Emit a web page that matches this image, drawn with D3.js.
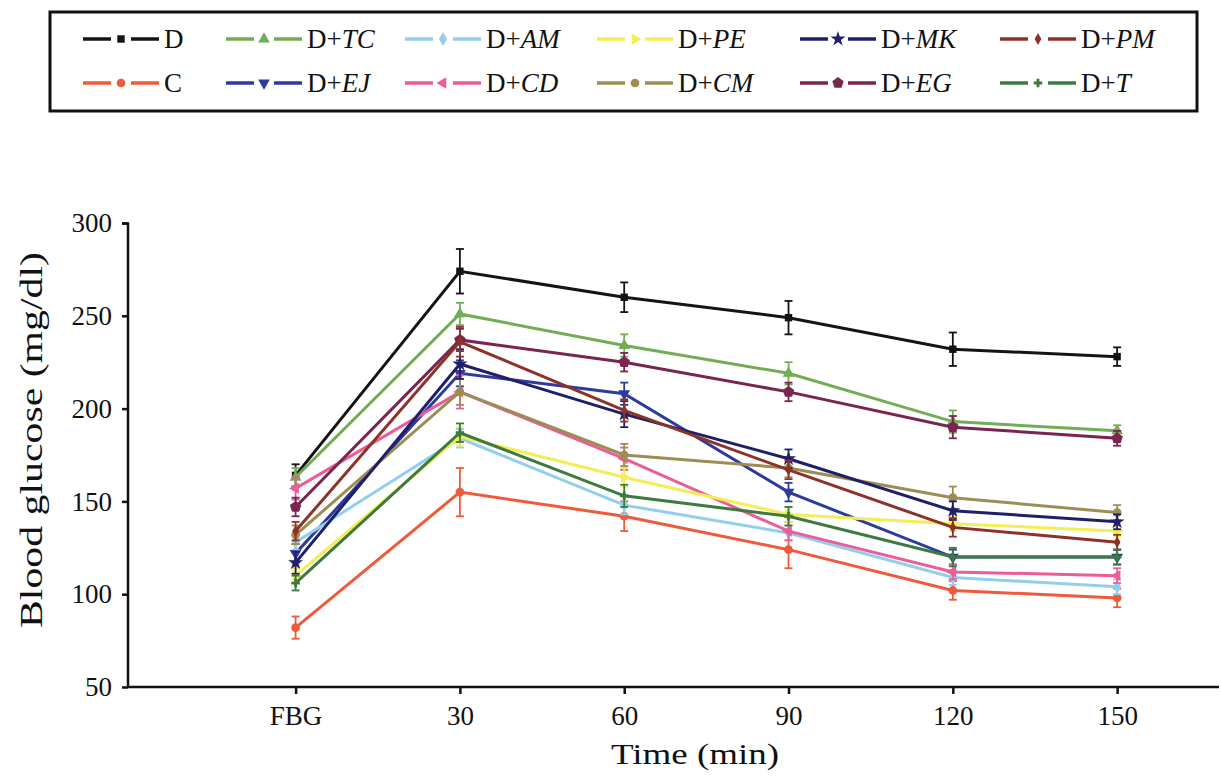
<!DOCTYPE html>
<html>
<head>
<meta charset="utf-8">
<script src="https://cdn.jsdelivr.net/npm/d3@7"></script>
<style>
  body { margin: 0; background: #fff; }
  svg text { font-family: "Liberation Serif", "Times New Roman", Times, serif; fill: #111; }
</style>
</head>
<body>
<script>
// time points on the x axis
var timeLabels = ["FBG", "30", "60", "90", "120", "150"];

// groups, in drawing order
var groups = ["D", "C", "TC", "EJ", "AM", "CD", "PE", "CM", "MK", "EG", "PM", "T"];

// mean blood glucose (mg/dl) per group
var valD  = [164, 274, 260, 249, 232, 228];
var valC  = [82, 155, 142, 124, 102, 98];
var valTC = [163, 251, 234, 219, 193, 188];
var valEJ = [122, 219, 208, 155, 120, 120];
var valAM = [128, 184, 148, 133, 109, 104];
var valCD = [157, 209, 173, 134, 112, 110];
var valPE = [110, 185, 163, 143, 138, 134];
var valCM = [132, 209, 175, 168, 152, 144];
var valMK = [117, 224, 197, 173, 145, 139];
var valEG = [147, 237, 225, 209, 190, 184];
var valPM = [134, 236, 199, 167, 136, 128];
var valT  = [106, 187, 153, 142, 120, 120];

// error bars (+/-)
var errD  = [6, 12, 8, 9, 9, 5];
var errC  = [6, 13, 8, 10, 5, 5];
var errTC = [5, 6, 6, 6, 6, 3];
var errEJ = [5, 7, 6, 5, 4, 4];
var errAM = [4, 5, 5, 4, 4, 4];
var errCD = [6, 9, 6, 5, 4, 4];
var errPE = [4, 5, 5, 4, 4, 3];
var errCM = [5, 7, 6, 5, 6, 4];
var errMK = [6, 8, 7, 5, 5, 4];
var errEG = [5, 6, 5, 5, 6, 4];
var errPM = [5, 8, 6, 5, 5, 4];
var errT  = [4, 5, 6, 5, 5, 4];

var values = [valD, valC, valTC, valEJ, valAM, valCD, valPE, valCM, valMK, valEG, valPM, valT];
var errors = [errD, errC, errTC, errEJ, errAM, errCD, errPE, errCM, errMK, errEG, errPM, errT];

// styling per group
var colors = {
  D: "#141414", C: "#ef5a3c", TC: "#72ad55", EJ: "#2c3b9c", AM: "#92cfec", CD: "#ec5c98",
  PE: "#f3ee55", CM: "#9d8d52", MK: "#1f1f6a", EG: "#7a2450", PM: "#8d3228", T: "#3d7a3e"
};
var shapes = {
  D: "square", C: "circle", TC: "tri", EJ: "triDown", AM: "diamond", CD: "triLeft",
  PE: "triRight", CM: "circle", MK: "star", EG: "pentagon", PM: "diamondSmall", T: "cross"
};

// legend layout: two rows, six columns
var legendRows = [["D", "TC", "AM", "PE", "MK", "PM"], ["C", "EJ", "CD", "CM", "EG", "T"]];
var legendCols = [83, 226, 405, 597, 800, 1000];

var width = 1221, height = 776;
var svg = d3.select("body").append("svg")
  .attr("width", width)
  .attr("height", height);

var x = d3.scaleLinear().domain([-1.02, 5.62]).range([128, 1219]);
var y = d3.scaleLinear().domain([50, 300]).range([687, 223]);

function symbolPath(kind) {
  if (kind === "pentagon") {
    var r = 6, pts = [];
    for (var i = 0; i < 5; i++) {
      var a = -Math.PI / 2 + i * 2 * Math.PI / 5;
      pts.push([r * Math.cos(a), r * Math.sin(a)]);
    }
    return "M" + pts.join("L") + "Z";
  }
  var map = {
    square: [d3.symbolSquare, 55], circle: [d3.symbolCircle, 60], tri: [d3.symbolTriangle, 60],
    triDown: [d3.symbolTriangle, 60], triLeft: [d3.symbolTriangle, 55], triRight: [d3.symbolTriangle, 55],
    diamond: [d3.symbolDiamond, 55], diamondSmall: [d3.symbolDiamond, 40],
    star: [d3.symbolStar, 70], cross: [d3.symbolCross, 40]
  };
  var m = map[kind];
  return d3.symbol().type(m[0]).size(m[1])();
}
function symbolRotate(kind) {
  if (kind === "triDown") return 180;
  if (kind === "triLeft") return -90;
  if (kind === "triRight") return 90;
  return 0;
}

// axes
var yAxis = d3.axisLeft(y).tickValues([50, 100, 150, 200, 250, 300]).tickSize(6).tickPadding(10);
var xAxis = d3.axisBottom(x).tickValues(d3.range(timeLabels.length))
  .tickFormat(function(i) { return timeLabels[i]; }).tickSize(7).tickPadding(12);

var gy = svg.append("g").attr("transform", "translate(128,0)").call(yAxis);
var gx = svg.append("g").attr("transform", "translate(0,687)").call(xAxis);
[gy, gx].forEach(function(g) {
  g.attr("font-family", null);
  g.select(".domain").attr("stroke", "#111").attr("stroke-width", 2.5);
  g.selectAll(".tick line").attr("stroke", "#111").attr("stroke-width", 2.5);
  g.selectAll(".tick text").attr("font-size", 27).attr("fill", "#111");
});
// x axis line runs to the right edge, no outer tick
gx.select(".domain").attr("d", "M128,0H1219");
gy.select(".domain").attr("d", "M-6,223.5H0V687");

svg.append("text")
  .attr("x", 695).attr("y", 764)
  .attr("text-anchor", "middle")
  .attr("font-size", 29)
  .attr("textLength", 168).attr("lengthAdjust", "spacingAndGlyphs")
  .text("Time (min)");

svg.append("text")
  .attr("transform", "translate(42,440) rotate(-90)")
  .attr("text-anchor", "middle")
  .attr("font-size", 31)
  .attr("textLength", 376).attr("lengthAdjust", "spacingAndGlyphs")
  .text("Blood glucose (mg/dl)");

// series
var line = d3.line()
  .x(function(d, i) { return x(i); })
  .y(function(d) { return y(d); });

var plot = svg.append("g");
groups.forEach(function(name, k) {
  var vals = values[k], errs = errors[k], col = colors[name];
  var g = plot.append("g");

  g.selectAll("g.err").data(vals).enter().append("g").attr("class", "err")
    .each(function(v, i) {
      var e = d3.select(this), cx = x(i), w = 4;
      e.append("line").attr("x1", cx).attr("x2", cx)
        .attr("y1", y(v - errs[i])).attr("y2", y(v + errs[i]));
      e.append("line").attr("x1", cx - w).attr("x2", cx + w)
        .attr("y1", y(v - errs[i])).attr("y2", y(v - errs[i]));
      e.append("line").attr("x1", cx - w).attr("x2", cx + w)
        .attr("y1", y(v + errs[i])).attr("y2", y(v + errs[i]));
    })
    .selectAll("line").attr("stroke", col).attr("stroke-width", 1.8);

  g.append("path").datum(vals)
    .attr("fill", "none")
    .attr("stroke", col)
    .attr("stroke-width", 3)
    .attr("d", line);

  g.selectAll("path.mk").data(vals).enter().append("path").attr("class", "mk")
    .attr("d", symbolPath(shapes[name]))
    .attr("transform", function(d, i) {
      return "translate(" + x(i) + "," + y(d) + ") rotate(" + symbolRotate(shapes[name]) + ")";
    })
    .attr("fill", col);
});

// legend
var leg = svg.append("g");
leg.append("rect")
  .attr("x", 50).attr("y", 12).attr("width", 1147).attr("height", 99)
  .attr("fill", "none").attr("stroke", "#111").attr("stroke-width", 3);

legendRows.forEach(function(row, r) {
  var ly = r === 0 ? 39 : 83;
  row.forEach(function(name, c) {
    var lx = legendCols[c], col = colors[name];
    leg.append("line").attr("x1", lx).attr("x2", lx + 28).attr("y1", ly).attr("y2", ly)
      .attr("stroke", col).attr("stroke-width", 3.5);
    leg.append("line").attr("x1", lx + 48).attr("x2", lx + 76).attr("y1", ly).attr("y2", ly)
      .attr("stroke", col).attr("stroke-width", 3.5);
    leg.append("path")
      .attr("d", symbolPath(shapes[name]))
      .attr("transform", "translate(" + (lx + 38) + "," + ly + ") rotate(" + symbolRotate(shapes[name]) + ")")
      .attr("fill", col);
    var t = leg.append("text").attr("x", lx + 81).attr("y", ly + 9).attr("font-size", 27);
    if (name === "D" || name === "C") {
      t.text(name);
    } else {
      t.append("tspan").text("D+");
      t.append("tspan").attr("font-style", "italic").text(name);
    }
  });
});
</script>
</body>
</html>
